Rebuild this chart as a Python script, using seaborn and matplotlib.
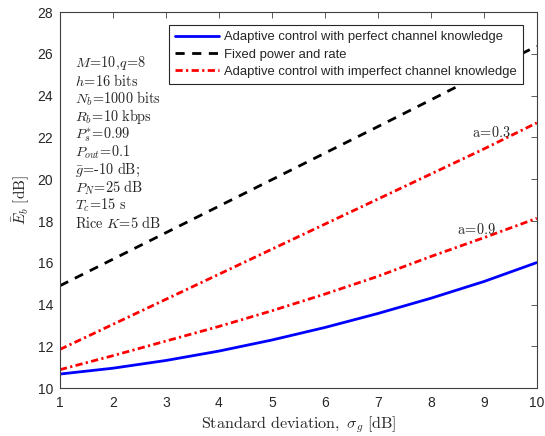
import numpy as np
import pandas as pd
import matplotlib
matplotlib.use("Agg")
import matplotlib.pyplot as plt
import seaborn as sns

sigma = [1, 2, 3, 4, 5, 6, 7, 8, 9, 10]
perfect = [10.67, 10.95, 11.32, 11.77, 12.3, 12.9, 13.57, 14.3, 15.1, 16.01]
fixed = [14.9, 16.17, 17.44, 18.71, 19.98, 21.25, 22.52, 23.8, 25.09, 26.38]
imperfect_a03 = [11.85, 13.05, 14.25, 15.45, 16.65, 17.85, 19.05, 20.25, 21.45, 22.7]
imperfect_a09 = [10.88, 11.55, 12.25, 12.95, 13.7, 14.5, 15.35, 16.3, 17.2, 18.13]

labels = ["Adaptive control with perfect channel knowledge",
          "Fixed power and rate",
          "Adaptive control with imperfect channel knowledge"]
params = [r"$M\!=\!10,\!q\!=\!8$",
          r"$h\!=\!16\ \mathrm{bits}$",
          r"$N_b\!=\!1000\ \mathrm{bits}$",
          r"$R_b\!=\!10\ \mathrm{kbps}$",
          r"$P_s^{*}\!=\!0.99$",
          r"$P_{out}\!=\!0.1$",
          r"$\bar{g}\!=\!\text{-}10\ \mathrm{dB;}$",
          r"$P_N\!=\!25\ \mathrm{dB}$",
          r"$T_c\!=\!15\ \mathrm{s}$",
          r"$\mathrm{Rice}\ K\!=\!5\ \mathrm{dB}$"]

sns.set_style("white")
plt.rcParams['font.family'] = ['Liberation Sans', 'DejaVu Sans']
plt.rcParams['mathtext.fontset'] = 'cm'

fig = plt.figure(figsize=(5.45, 4.36), dpi=100)
ax = fig.add_axes([0.110, 0.110, 0.875, 0.862])

axcol = '#404040'
txtcol = '#262626'
lw = 2.0
dash = [3.3, 2.7]
dashdot = [2.6, 1.2, 0.8, 1.2]
sns.lineplot(x=sigma, y=perfect, ax=ax, color='#0000ff', lw=lw, label=labels[0])
sns.lineplot(x=sigma, y=fixed, ax=ax, color='black', lw=lw, label=labels[1])
ax.lines[-1].set_dashes(dash)
sns.lineplot(x=sigma, y=imperfect_a03, ax=ax, color='#ff0000', lw=lw, label=labels[2])
ax.lines[-1].set_dashes(dashdot)
sns.lineplot(x=sigma, y=imperfect_a09, ax=ax, color='#ff0000', lw=lw)
ax.lines[-1].set_dashes(dashdot)

ax.set_xlim(1, 10)
ax.set_ylim(10, 28)
ax.set_xticks(range(1, 11))
ax.set_yticks(range(10, 29, 2))
for s in ax.spines.values():
    s.set_visible(True)
    s.set_color(axcol)
    s.set_linewidth(0.8)
ax.tick_params(axis='both', which='both', direction='in', length=4, width=0.6,
               colors=axcol, labelcolor=txtcol, labelsize=10, top=True, right=True)
ax.tick_params(axis='x', pad=6)
ax.tick_params(axis='y', pad=5)

ax.set_xlabel(r"$\mathrm{Standard\ deviation,}\ \sigma_g\ \mathrm{[dB]}$", fontsize=11.6,
              color=txtcol, labelpad=3)
ax.set_ylabel(r"$\bar{E}_b\ \mathrm{[dB]}$", fontsize=11, color=txtcol, labelpad=4)

for i, t in enumerate(params):
    ax.text(0.032, 0.8636 - i * 0.0471, t, transform=ax.transAxes, fontsize=10.3,
            color=txtcol, va='center', ha='left')

ax.text(8.77, 22.26, r"$\mathrm{a\!=\!0.3}$", fontsize=10.3, color=txtcol, va='center', ha='left')
ax.text(8.49, 17.57, r"$\mathrm{a\!=\!0.9}$", fontsize=10.3, color=txtcol, va='center', ha='left')

leg = ax.legend(loc='upper right', bbox_to_anchor=(0.9706, 0.9654), fontsize=9.4, frameon=True,
                fancybox=False, edgecolor=txtcol, framealpha=1, handlelength=3.4,
                handletextpad=0.38, borderpad=0.45, labelspacing=0.4, borderaxespad=0)
leg.get_frame().set_linewidth(0.8)
for h in leg.get_lines():
    h.set_linewidth(lw)

fig.savefig("out.png", dpi=100)
